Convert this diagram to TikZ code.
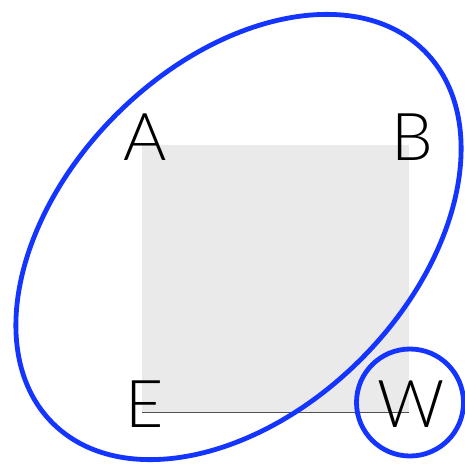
\documentclass[tikz,border=0pt]{standalone}
\usepackage{fontspec}
\setmainfont{Lato Light}
\definecolor{ringblue}{RGB}{20,52,255}
\definecolor{sqgray}{RGB}{234,234,234}
\definecolor{edgegray}{RGB}{80,80,80}
\begin{document}
\begin{tikzpicture}[x=1pt,y=-1pt,
  lbl/.style={inner sep=0pt,font=\fontsize{66}{66}\selectfont},
  ring/.style={draw=ringblue,line width=4.8pt}]
\useasboundingbox (0,0) rectangle (465,464);
\coordinate (nw) at (142,145);
\coordinate (se) at (409,412);
\coordinate (sw) at (142,412);
\fill[sqgray] (nw) rectangle (se);
\draw[edgegray,line width=0.8pt] (sw) -- (se);
\node[lbl] (A) at (145,137) {A};
\node[lbl] (B) at (412,137) {B};
\node[lbl] (E) at (145,404) {E};
\node[lbl] (W) at (411,404) {W};
\draw[ring] (238.5,237) ellipse[x radius=263,y radius=173,rotate=45];
\draw[ring] (410,402.5) circle[radius=53.5];
\end{tikzpicture}
\end{document}
